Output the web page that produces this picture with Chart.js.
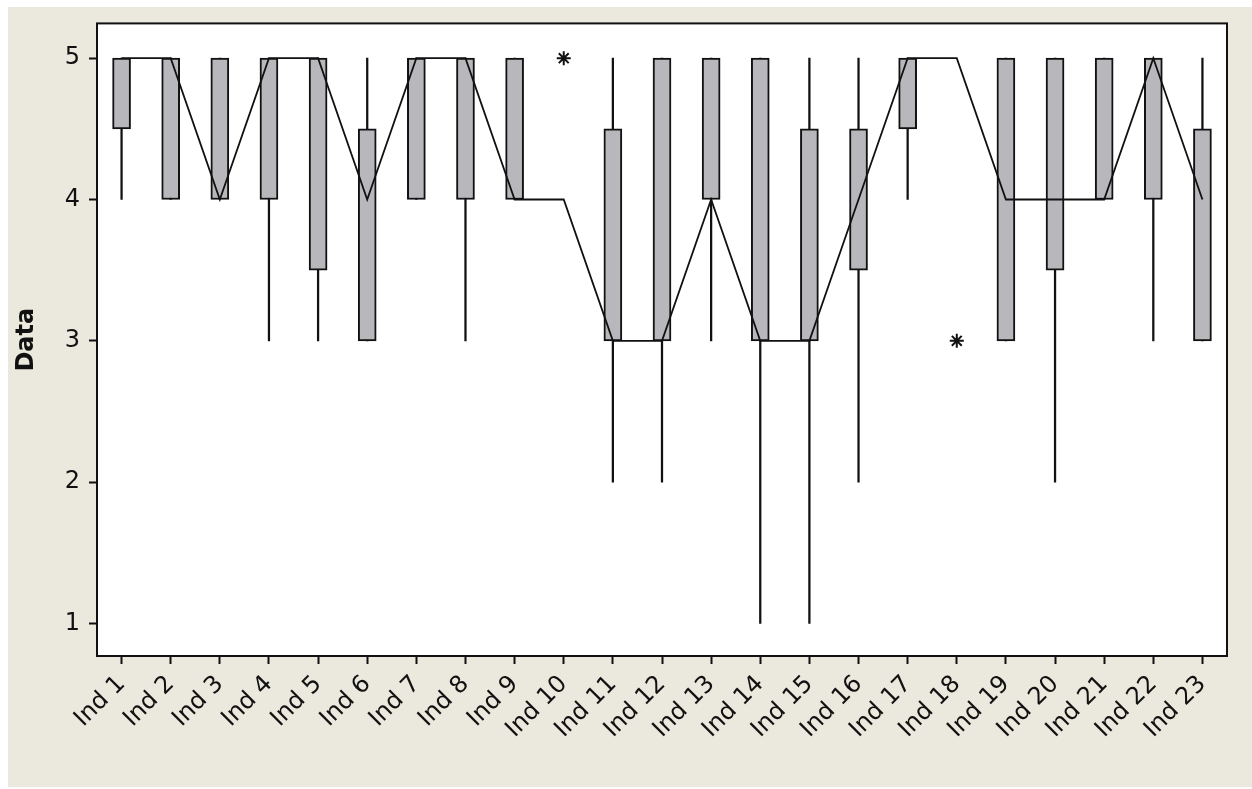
<!DOCTYPE html>
<html lang="en">
<head>
<meta charset="UTF-8">
<title>Boxplot of Ind 1 - Ind 23</title>
<script src="https://cdn.jsdelivr.net/npm/chart.js"></script>
<style>
    body { margin: 0; background: #ffffff; }
    canvas { display: block; }
</style>
</head>
<body>
<canvas id="boxChart" width="1252" height="789"></canvas>
<script>
// categories and box statistics
const categories = ['Ind 1', 'Ind 2', 'Ind 3', 'Ind 4', 'Ind 5', 'Ind 6', 'Ind 7', 'Ind 8',
    'Ind 9', 'Ind 10', 'Ind 11', 'Ind 12', 'Ind 13', 'Ind 14', 'Ind 15', 'Ind 16',
    'Ind 17', 'Ind 18', 'Ind 19', 'Ind 20', 'Ind 21', 'Ind 22', 'Ind 23'];
const q1Values = [4.5, 4, 4, 4, 3.5, 3, 4, 4, 4, null, 3, 3, 4, 3, 3, 3.5, 4.5, null, 3, 3.5, 4, 4, 3];
const q3Values = [5, 5, 5, 5, 5, 4.5, 5, 5, 5, null, 4.5, 5, 5, 5, 4.5, 4.5, 5, null, 5, 5, 5, 5, 4.5];
const whiskerLow = [4, 4, 4, 3, 3, 3, 4, 3, 4, null, 2, 2, 3, 1, 1, 2, 4, null, 3, 2, 4, 3, 3];
const whiskerHigh = [5, 5, 5, 5, 5, 5, 5, 5, 5, null, 5, 5, 5, 5, 5, 5, 5, null, 5, 5, 5, 5, 5];
const medians = [5, 5, 4, 5, 5, 4, 5, 5, 4, 4, 3, 3, 4, 3, 3, 4, 5, 5, 4, 4, 4, 5, 4];
const outliers = [null, null, null, null, null, null, null, null, null, 5, null, null,
    null, null, null, null, null, 3, null, null, null, null, null];
const yTicks = [1, 2, 3, 4, 5];

const pair = (a, b) => a.map((v, i) => (v === null || b[i] === null) ? null : [v, b[i]]);

// page background, white plot panel and plot frame
const frame = {
    id: 'frame',
    beforeDraw(chart) {
        const { ctx, chartArea: a } = chart;
        ctx.save();
        ctx.fillStyle = '#ffffff';
        ctx.fillRect(0, 0, chart.width, chart.height);
        ctx.fillStyle = '#ebe8dd';
        ctx.fillRect(8, 7, chart.width - 8, 780);
        ctx.fillStyle = '#ffffff';
        ctx.fillRect(a.left, a.top, a.right - a.left, a.bottom - a.top);
        ctx.restore();
    },
    afterDraw(chart) {
        const { ctx, chartArea: a } = chart;
        ctx.save();
        ctx.strokeStyle = '#111111';
        ctx.lineWidth = 2;
        ctx.strokeRect(a.left, a.top, a.right - a.left, a.bottom - a.top);
        ctx.restore();
    }
};

const tickFont = { family: 'DejaVu Sans', size: 24 };

new Chart(document.getElementById('boxChart'), {
    type: 'bar',
    data: {
        labels: categories,
        datasets: [
            {
                label: 'Whiskers',
                data: pair(whiskerLow, whiskerHigh),
                backgroundColor: '#111111',
                barThickness: 1.6,
                grouped: false,
                order: 3
            },
            {
                label: 'Boxes',
                data: pair(q1Values, q3Values),
                backgroundColor: '#b8b8bc',
                borderColor: '#111111',
                borderWidth: 2,
                borderSkipped: false,
                barThickness: 18,
                grouped: false,
                order: 2
            },
            {
                type: 'line',
                label: 'Median',
                data: medians,
                borderColor: '#111111',
                borderWidth: 1.8,
                pointRadius: 0,
                tension: 0,
                fill: false,
                order: 1
            },
            {
                type: 'line',
                label: 'Outliers',
                data: outliers,
                showLine: false,
                pointStyle: 'star',
                pointRadius: 7,
                borderColor: '#111111',
                borderWidth: 2,
                order: 0
            }
        ]
    },
    options: {
        responsive: false,
        animation: false,
        layout: { padding: { top: 20, right: 25, left: 0, bottom: 0 } },
        plugins: {
            legend: { display: false },
            tooltip: { enabled: false }
        },
        scales: {
            x: {
                offset: true,
                border: { display: false },
                grid: { drawOnChartArea: false, tickLength: 8, tickColor: '#111111', tickWidth: 2, offset: false },
                ticks: { color: '#111111', font: tickFont, minRotation: 45, maxRotation: 45, padding: 6, autoSkip: false },
                afterFit: s => { s.height = 133; }
            },
            y: {
                min: 0.77,
                max: 5.246,
                border: { display: false },
                grid: { drawOnChartArea: false, tickLength: 8, tickColor: '#111111', tickWidth: 2 },
                ticks: { color: '#111111', font: tickFont, padding: 9 },
                afterBuildTicks: s => { s.ticks = yTicks.map(v => ({ value: v })); },
                title: {
                    display: true,
                    text: 'Data',
                    color: '#111111',
                    font: { family: 'DejaVu Sans', size: 24, weight: 'bold', lineHeight: 1 },
                    padding: { top: 15, bottom: 0 }
                },
                afterFit: s => { s.width = 97; }
            }
        }
    },
    plugins: [frame]
});
</script>
</body>
</html>
